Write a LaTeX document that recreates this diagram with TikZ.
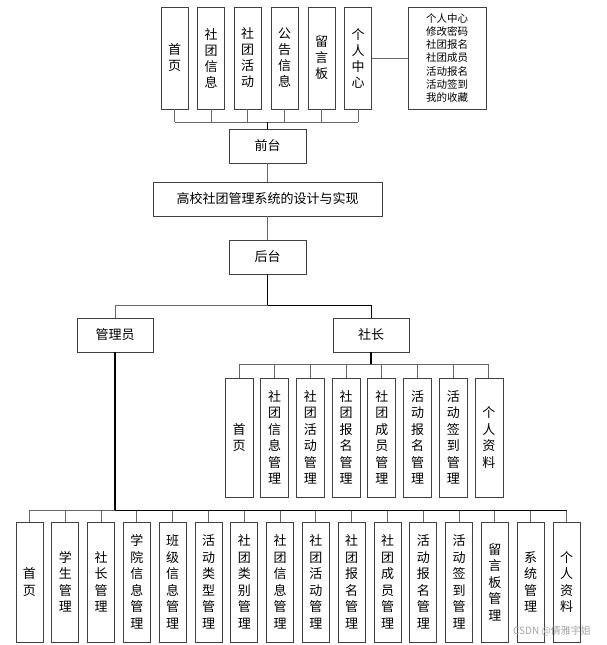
\documentclass[tikz,border=0pt]{standalone}
\usepackage{fontspec}
\setmainfont{Noto Sans CJK SC}
\begin{document}
\begin{tikzpicture}[x=1pt,y=-1pt,
  box/.style={draw=black!75,line width=0.9pt,fill=white,inner sep=0pt,align=center,font=\fontsize{13}{16.5}\selectfont},
  topbox/.style={box,minimum width=27pt,minimum height=102pt,font=\fontsize{13}{16}\selectfont},
  subbox/.style={box,minimum width=28pt,minimum height=119pt},
  botbox/.style={box,minimum width=27pt,minimum height=120pt},
  hbox/.style={box,minimum width=77pt,minimum height=34pt},
  infobox/.style={box,minimum width=78pt,minimum height=102pt,font=\fontsize{10.5}{13.3}\selectfont},
  conn/.style={draw=black!60,line width=1pt},
  trunk/.style={draw=black,line width=1.6pt}]
\useasboundingbox (0,0) rectangle (606,645);

% top row
\node[topbox] (t1) at (174.5,58) {首\\页};
\node[topbox] (t2) at (211,58) {社\\团\\信\\息};
\node[topbox] (t3) at (247.5,58) {社\\团\\活\\动};
\node[topbox] (t4) at (284.5,58) {公\\告\\信\\息};
\node[topbox] (t5) at (321.5,58) {留\\言\\板};
\node[topbox] (t6) at (358,58) {个\\人\\中\\心};
\node[infobox] (info) at (447,58) {个人中心\\修改密码\\社团报名\\社团成员\\活动报名\\活动签到\\我的收藏};
\draw[conn] (t6.east) -- (info.west);

\node[hbox] (qt) at (267.5,146) {前台};
\node[box,minimum width=229pt,minimum height=34pt] (title) at (267.5,199) {高校社团管理系统的设计与实现};
\node[hbox] (ht) at (267.5,257) {后台};

\coordinate (tb) at (267.5,122);
\foreach \i in {1,...,6}{\draw[conn] (t\i.south) -- (t\i.south |- tb);}
\draw[conn] (t1.south |- tb) -- (t6.south |- tb);
\draw[trunk,line width=1pt] (tb) -- (qt.north);
\draw[conn] (qt.south) -- (title.north);
\draw[conn] (title.south) -- (ht.north);

% second level
\node[hbox,minimum width=76pt] (admin) at (115,335) {管理员};
\node[hbox,minimum width=76pt] (sz) at (371,335) {社长};
\coordinate (mb) at (267.5,305);
\draw[trunk,line width=1pt] (ht.south) -- (mb);
\draw[conn] (admin.north) |- (mb);
\draw[conn,draw=black] (mb) -| (sz.north);

% 社长 children
\coordinate (sb) at (371,364);
\foreach \i/\t [evaluate=\i as \xx using 239+(\i-1)*35.71] in {1/{首\\页},2/{社\\团\\信\\息\\管\\理},3/{社\\团\\活\\动\\管\\理},4/{社\\团\\报\\名\\管\\理},5/{社\\团\\成\\员\\管\\理},6/{活\\动\\报\\名\\管\\理},7/{活\\动\\签\\到\\管\\理},8/{个\\人\\资\\料}}{
  \node[subbox] (s\i) at (\xx,437.5) {\t};
  \draw[conn] (s\i.north) -- (s\i.north |- sb);
}
\draw[conn] (s1.north |- sb) -- (s8.north |- sb);
\draw[trunk,line width=1.3pt] (sz.south) -- (sb);

% 管理员 children
\coordinate (ab) at (115,510);
\foreach \i/\t [evaluate=\i as \xx using 29.5+(\i-1)*35.8] in {1/{首\\页},2/{学\\生\\管\\理},3/{社\\长\\管\\理},4/{学\\院\\信\\息\\管\\理},5/{班\\级\\信\\息\\管\\理},6/{活\\动\\类\\型\\管\\理},7/{社\\团\\类\\别\\管\\理},8/{社\\团\\信\\息\\管\\理},9/{社\\团\\活\\动\\管\\理},10/{社\\团\\报\\名\\管\\理},11/{社\\团\\成\\员\\管\\理},12/{活\\动\\报\\名\\管\\理},13/{活\\动\\签\\到\\管\\理},14/{留\\言\\板\\管\\理},15/{系\\统\\管\\理},16/{个\\人\\资\\料}}{
  \node[botbox] (b\i) at (\xx,582) {\t};
  \draw[conn] (b\i.north) -- (b\i.north |- ab);
}
\draw[conn] (b1.north |- ab) -- (ab);
\draw[conn,draw=black] (ab) -- (b16.north |- ab);
\draw[trunk] (admin.south) -- (ab);

% watermark
\node[text=black!35,font=\fontsize{10}{12}\selectfont,inner sep=0pt] (wm) at (552,631) {CSDN @倩雅宇姐};
\end{tikzpicture}
\end{document}
